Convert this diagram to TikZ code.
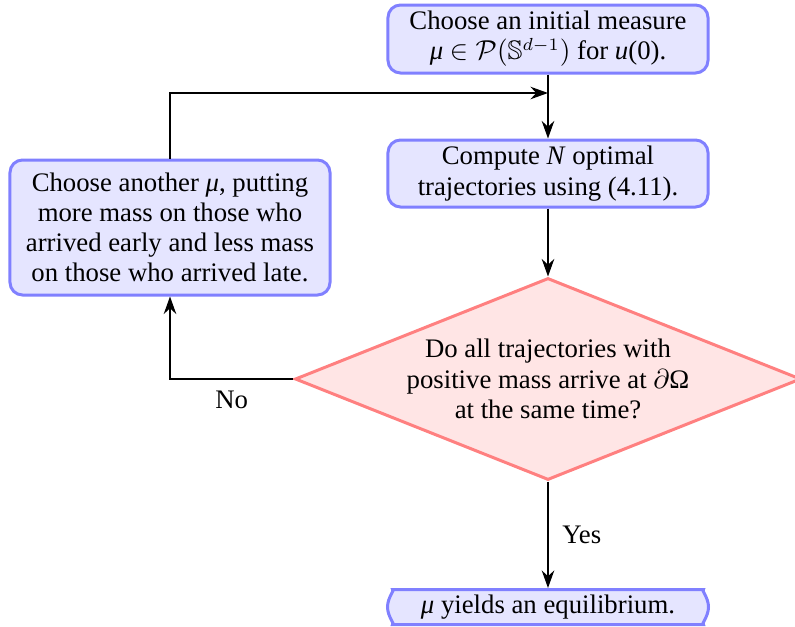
\documentclass[tikz,border=0pt]{standalone}
\usepackage{amssymb}
\usepackage{fontspec}
\setmainfont{Liberation Serif}
\usetikzlibrary{shapes.geometric,shapes.misc,arrows.meta}
\begin{document}
\begin{tikzpicture}[x=0.4pt,y=-0.4pt,
  font=\rmfamily\fontsize{10.7pt}{12.1pt}\selectfont,
  blockbox/.style={rectangle, draw=blue!50, fill=blue!10, very thick, rounded corners=5pt, align=center, minimum width=128pt, inner sep=2pt},
  endbox/.style={rounded rectangle, draw=blue!50, fill=blue!10, very thick, rounded corners=5pt, align=center, minimum width=130.4pt, minimum height=14pt, inner sep=1pt},
  decision/.style={diamond, draw=red!50, fill=red!10, very thick, align=center, shape aspect=2.5, minimum width=202.4pt, minimum height=80.8pt, inner sep=0pt},
  conn/.style={thick, -{Stealth[length=7pt,width=5pt]}}]
\useasboundingbox (0,0) rectangle (795,627);
\node[blockbox, minimum height=27.2pt] (init) at (548,39) {Choose an initial measure\\ \textit{μ}~$\in\mathcal{P}(\mathbb{S}^{d-1})$ for \textit{u}(0).};
\node[blockbox, minimum height=26.8pt] (comp) at (548,173.5) {Compute \textit{N} optimal\\ trajectories using (4.11).};
\node[blockbox, minimum height=54pt] (other) at (170,227.5) {Choose another \textit{μ}, putting\\ more mass on those who\\ arrived early and less mass\\ on those who arrived late.};
\node[decision] (dec) at (548,379) {Do all trajectories with\\ positive mass arrive at $\partial$Ω\\ at the same time?};
\node[endbox] (eq) at (548,607) {\textit{μ} yields an equilibrium.};
\coordinate (join) at (548,93);
\coordinate (corner) at (170,379);
\draw[conn] (init.south) -- (comp.north);
\draw[conn] (other.north) |- (join);
\draw[conn] (comp.south) -- (dec.north);
\draw[conn] (dec.west) -- node[below, yshift=-1pt] (nolab) {No} (corner) -- (other.south);
\draw[conn] (dec.south) -- node[right, xshift=2pt] (yeslab) {Yes} (eq.north);
\end{tikzpicture}
\end{document}
